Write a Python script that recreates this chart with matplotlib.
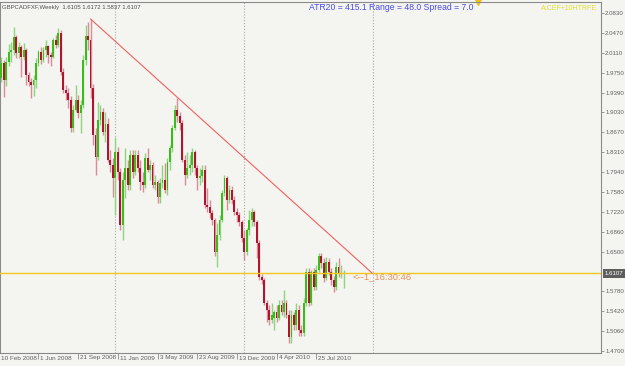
import matplotlib
matplotlib.use('Agg')
import matplotlib.pyplot as plt
from matplotlib.transforms import blended_transform_factory, ScaledTranslation

# ---------------- data (weekly GBPCAD bars, first bar = week of 10 Feb 2008) ----------------
opens = [1.9799, 1.9654, 1.9927, 1.9618, 1.9945, 2.0126, 2.0162, 2.0398, 2.0108, 2.0217,
         2.0035, 2.0162, 1.9709, 1.9582, 1.9527, 1.9618, 1.9927, 2.0126, 1.9981, 2.0162,
         2.0235, 2.0072, 2.0035, 2.0344, 2.0253, 2.0471, 1.9763, 1.9436, 1.9382, 1.9255,
         1.8747, 1.9073, 1.9255, 1.9019, 1.9164, 1.9981, 2.0417, 2.0344, 1.9473, 1.8620,
         1.8220, 1.8892, 1.9037, 1.8674, 1.8819, 1.8166, 1.8075, 1.7839, 1.8311, 1.7948,
         1.6986, 1.7803, 1.8021, 1.7712, 1.8257, 1.7948, 1.8257, 1.8021, 1.7767, 1.7712,
         1.8202, 1.7984, 1.8075, 1.7712, 1.7767, 1.7494, 1.7749, 1.7803, 1.7621, 1.8130,
         1.8384, 1.8747, 1.9073, 1.8965, 1.8838, 1.8166, 1.7894, 1.8021, 1.8075, 1.8311,
         1.8021, 1.7839, 1.7876, 1.7984, 1.7349, 1.7313, 1.7204, 1.7077, 1.6496, 1.6805,
         1.7077, 1.7567, 1.7839, 1.7440, 1.7621, 1.7440, 1.7222, 1.7168, 1.7041, 1.6750,
         1.6496, 1.6895, 1.7077, 1.7222, 1.7041, 1.6660, 1.6042, 1.5988, 1.5571, 1.5443,
         1.5262, 1.5298, 1.5407, 1.5298, 1.5534, 1.5407, 1.5571, 1.5353, 1.4953, 1.5353,
         1.5171, 1.5443, 1.5080, 1.5026, 1.5571, 1.6133, 1.5571, 1.6133, 1.5861, 1.6169,
         1.6424, 1.6297, 1.6024, 1.6315, 1.6133, 1.5988, 1.5861, 1.6224, 1.6097, 1.6105]
highs = [1.9872, 2.0035, 1.9981, 2.0035, 2.0271, 2.0308, 2.0580, 2.0435, 2.0308, 2.0253,
         2.0290, 2.0199, 1.9763, 1.9654, 1.9709, 2.0017, 2.0162, 2.0217, 2.0217, 2.0344,
         2.0253, 2.0126, 2.0380, 2.0435, 2.0562, 2.0525, 1.9836, 1.9527, 1.9473, 1.9328,
         1.9164, 1.9527, 1.9346, 1.9255, 2.0072, 2.0616, 2.0671, 2.0725, 1.9545, 1.8747,
         1.9219, 1.9164, 1.9110, 1.9037, 1.8928, 1.8347, 1.8202, 1.8583, 1.8402, 1.8021,
         1.7948, 1.8384, 1.8166, 1.8347, 1.8347, 1.8347, 1.8347, 1.8166, 1.7948, 1.8293,
         1.8384, 1.8166, 1.8130, 1.7894, 1.7803, 1.7839, 1.8075, 1.8112, 1.8202, 1.8438,
         1.8801, 1.9164, 1.9291, 1.9037, 1.8892, 1.8257, 1.8311, 1.8257, 1.8384, 1.8347,
         1.8075, 1.8021, 1.8075, 1.8075, 1.7658, 1.7440, 1.7258, 1.7113, 1.7023, 1.7168,
         1.7621, 1.7894, 1.7876, 1.7712, 1.7694, 1.7513, 1.7295, 1.7222, 1.7077, 1.6895,
         1.6932, 1.7258, 1.7295, 1.7258, 1.7077, 1.6714, 1.6097, 1.6024, 1.5625, 1.5534,
         1.5571, 1.5443, 1.5534, 1.5625, 1.5625, 1.5806, 1.5625, 1.5443, 1.5443, 1.5407,
         1.5571, 1.5534, 1.5171, 1.5661, 1.6206, 1.6206, 1.6169, 1.6206, 1.6260, 1.6478,
         1.6478, 1.6387, 1.6405, 1.6387, 1.6206, 1.6061, 1.6315, 1.6387, 1.6260, 1.6172]
lows = [1.9582, 1.9582, 1.9309, 1.9509, 1.9872, 1.9945, 2.0072, 2.0017, 2.0017, 1.9672,
        1.9981, 1.9527, 1.9509, 1.9291, 1.9328, 1.9473, 1.9872, 1.9908, 1.9945, 2.0035,
        1.9927, 1.9872, 2.0017, 2.0199, 2.0217, 1.9709, 1.9382, 1.9255, 1.9110, 1.8674,
        1.8674, 1.9037, 1.8928, 1.8656, 1.9110, 1.9890, 2.0162, 1.9291, 1.8438, 1.7894,
        1.8166, 1.8801, 1.8620, 1.8493, 1.8130, 1.7948, 1.7494, 1.7168, 1.7803, 1.6895,
        1.6714, 1.7476, 1.7621, 1.7621, 1.7839, 1.7894, 1.7948, 1.7621, 1.7585, 1.7658,
        1.7948, 1.7803, 1.7658, 1.7621, 1.7386, 1.7386, 1.7658, 1.7567, 1.7531, 1.7984,
        1.8311, 1.8710, 1.8856, 1.8710, 1.8130, 1.7712, 1.7839, 1.7894, 1.7948, 1.7894,
        1.7621, 1.7712, 1.7767, 1.7295, 1.7222, 1.7113, 1.6986, 1.6424, 1.6224, 1.6714,
        1.7041, 1.7513, 1.7258, 1.7386, 1.7367, 1.7168, 1.7041, 1.6968, 1.6678, 1.6351,
        1.6442, 1.6805, 1.6968, 1.6968, 1.6387, 1.5988, 1.5915, 1.5534, 1.5226, 1.5171,
        1.5208, 1.5080, 1.5226, 1.5262, 1.5353, 1.5316, 1.5298, 1.4845, 1.4845, 1.5080,
        1.5080, 1.4972, 1.4972, 1.4972, 1.5516, 1.5516, 1.5534, 1.5806, 1.5806, 1.6133,
        1.6206, 1.5952, 1.5988, 1.6079, 1.5897, 1.5770, 1.5806, 1.6042, 1.6024, 1.5837]
closes = [1.9654, 1.9927, 1.9618, 1.9945, 2.0126, 2.0162, 2.0398, 2.0108, 2.0217, 2.0035,
          2.0162, 1.9709, 1.9582, 1.9527, 1.9618, 1.9927, 2.0126, 1.9981, 2.0162, 2.0235,
          2.0072, 2.0035, 2.0344, 2.0253, 2.0471, 1.9763, 1.9436, 1.9382, 1.9255, 1.8747,
          1.9073, 1.9255, 1.9019, 1.9164, 1.9981, 2.0417, 2.0344, 1.9473, 1.8620, 1.8220,
          1.8892, 1.9037, 1.8674, 1.8819, 1.8166, 1.8075, 1.7839, 1.8311, 1.7948, 1.6986,
          1.7803, 1.8021, 1.7712, 1.8257, 1.7948, 1.8257, 1.8021, 1.7767, 1.7712, 1.8202,
          1.7984, 1.8075, 1.7712, 1.7767, 1.7494, 1.7749, 1.7803, 1.7621, 1.8130, 1.8384,
          1.8747, 1.9073, 1.8965, 1.8838, 1.8166, 1.7894, 1.8021, 1.8075, 1.8311, 1.8021,
          1.7839, 1.7876, 1.7984, 1.7349, 1.7313, 1.7204, 1.7077, 1.6496, 1.6805, 1.7077,
          1.7567, 1.7839, 1.7440, 1.7621, 1.7440, 1.7222, 1.7168, 1.7041, 1.6750, 1.6496,
          1.6895, 1.7077, 1.7222, 1.7041, 1.6660, 1.6042, 1.5988, 1.5571, 1.5443, 1.5262,
          1.5353, 1.5407, 1.5298, 1.5534, 1.5407, 1.5571, 1.5353, 1.4953, 1.5353, 1.5171,
          1.5443, 1.5080, 1.5026, 1.5571, 1.6133, 1.5571, 1.6133, 1.5861, 1.6169, 1.6424,
          1.6297, 1.6024, 1.6315, 1.6133, 1.5988, 1.5861, 1.6224, 1.6097, 1.6105, 1.6107]

date_labels = ['10 Feb 2008', '1 Jun 2008', '21 Sep 2008', '11 Jan 2009', '3 May 2009',
               '23 Aug 2009', '13 Dec 2009', '4 Apr 2010', '25 Jul 2010']
date_label_bars = [0, 16, 32, 48, 64, 80, 96, 112, 128]
price_ticks = [2.0830, 2.0470, 2.0110, 1.9750, 1.9390, 1.9030, 1.8670, 1.8310, 1.7940,
               1.7580, 1.7220, 1.6860, 1.6500, 1.5780, 1.5420, 1.5060, 1.4700]
year_separator_bars = [47, 99, 151]
trend_bars = [37, 150.5]
trend_prices = [2.0725, 1.6115]
current_price = 1.6107
symbol_text = 'GBPCADFXF,Weekly  1.6105 1.6172 1.5837 1.6107'
info_text = 'ATR20 = 415.1 Range = 48.0 Spread = 7.0'
timer_text = '<--1_16:30:46'
corner_text = 'A:CEF+10HTRFE'

# ---------------- drawing ----------------
BG = '#f4f4f0'
FONT = 'Liberation Sans'
W, H = 625, 366
fig = plt.figure(figsize=(W / 100, H / 100), dpi=100)
fig.patch.set_facecolor(BG)
ax = fig.add_axes([0, (H - 353) / H, 601 / W, (353 - 2) / H])
ax.set_facecolor(BG)
ax.set_xlim(0.484, 242.82)
ax.set_ylim(1.4663, 2.1034)

n = len(closes)
xs = list(range(n))
up_body, dn_body = '#3cbc1c', '#b0142e'
up_wick, dn_wick = '#8fd47e', '#d98d99'
for i in xs:
    o, h, l, c = opens[i], highs[i], lows[i], closes[i]
    up = c >= o
    ax.vlines(i, l, h, color=up_wick if up else dn_wick, lw=1.0, zorder=2)
    lo, hi = min(o, c), max(o, c)
    if hi - lo < 0.0015:
        hi = lo + 0.0015
    ax.bar(i, hi - lo, bottom=lo, width=0.75, color=up_body if up else dn_body,
           linewidth=0, zorder=3)

for b in year_separator_bars:
    ax.axvline(b, color='#a8a8a8', lw=0.8, ls=(0, (1, 1.6)), zorder=1)

ax.axhline(current_price, color='#f2c81e', lw=1.0, zorder=4)
ax.plot(trend_bars, trend_prices, color='#f06060', lw=0.8, zorder=5)

for s in ax.spines.values():
    s.set_color('#8a8a8a')
    s.set_linewidth(0.8)

# y axis on the right
ax.yaxis.tick_right()
ax.set_yticks(price_ticks)
ax.set_yticklabels(['%.4f' % p for p in price_ticks], family=FONT)
ax.tick_params(axis='y', direction='out', length=2, width=0.6, color='#8a8a8a',
               labelsize=4.4, labelcolor='#606060', pad=1)

# x axis ticks + labels (left aligned, MT4 style)
ax.set_xticks(date_label_bars[1:])
ax.set_xticklabels([])
ax.tick_params(axis='x', direction='out', length=4, width=0.6, color='#8a8a8a')
lt = blended_transform_factory(ax.transData, ax.transAxes) + \
    ScaledTranslation(2 / 100, 0, fig.dpi_scale_trans)
for b, lab in zip(date_label_bars, date_labels):
    ax.text(b, -5 / 351, lab, transform=lt, ha='left', va='center', fontsize=4.6,
            color='#606060', clip_on=False, family=FONT)

# current price box
bt = blended_transform_factory(ax.transAxes, ax.transData)
ax.text(1 + 3.5 / 601, current_price, '%.4f' % current_price, transform=bt, ha='left',
        va='center', fontsize=4.4, color='white', clip_on=False, zorder=10, family=FONT,
        bbox=dict(boxstyle='square,pad=0.3', facecolor='#5e5e5e', edgecolor='none'))

# texts
fig.text(2 / W, 1 - 7 / H, symbol_text, fontsize=4.3, color='#505050', va='center',
         ha='left', family=FONT)
fig.text(309 / W, 1 - 8 / H, info_text, fontsize=6.2, color='#4b4be6', va='center',
         ha='left', family=FONT)
fig.text(541 / W, 1 - 9 / H, corner_text, fontsize=5.0, color='#e4e030', va='center',
         ha='left', family=FONT)
ax.text(142.6, current_price - 0.0065, timer_text, fontsize=6.8, color='#e8905a',
        va='center', ha='left', family=FONT, zorder=6)

# chart-shift marker at the top
ax.plot([193.2], [1.0], marker='v', markersize=4, color='#f0c020',
        transform=blended_transform_factory(ax.transData, ax.transAxes), clip_on=False)

fig.savefig('out.png', dpi=100, facecolor=BG)
